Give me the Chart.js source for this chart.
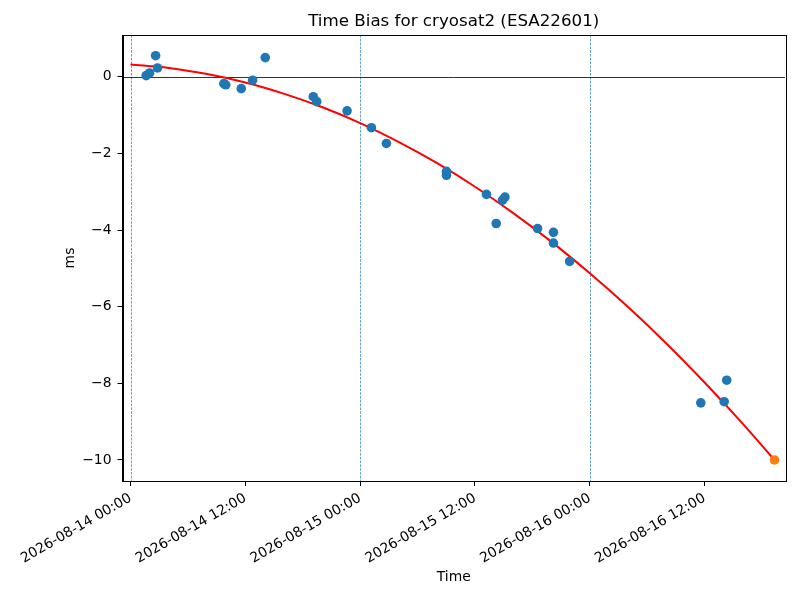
<!DOCTYPE html>
<html>
<head>
<meta charset="utf-8">
<script src="https://cdn.jsdelivr.net/npm/chart.js@4/dist/chart.umd.min.js"></script>
<style>
  html, body { margin: 0; padding: 0; background: #fff; }
  canvas { display: block; }
</style>
</head>
<body>
<canvas id="biasChart" width="800" height="600"></canvas>
<script>
  // hours since 2026-08-14 00:00 UTC
  const startDay = Date.UTC(2026, 7, 14);

  const chartTitle = 'Time Bias for cryosat2 (ESA22601)';

  // measured time bias (ms)
  const pointHours = [1.63, 1.99, 2.62, 2.82, 9.75, 9.95, 11.57, 12.76, 14.08, 19.1, 19.46,
    22.63, 25.17, 26.74, 33.02, 33.02, 37.2, 38.22, 38.88, 39.13, 42.54, 44.2, 44.2, 45.89,
    59.6, 62.04, 62.31];
  const pointValues = [0.03, 0.10, 0.55, 0.23, -0.18, -0.21, -0.31, -0.09, 0.50, -0.52, -0.65,
    -0.89, -1.33, -1.74, -2.47, -2.57, -3.07, -3.83, -3.22, -3.14, -3.96, -4.06, -4.34, -4.82,
    -8.51, -8.48, -7.92];

  // predicted point at end of fit
  const predHours = [67.3];
  const predValues = [-10.0];

  // red fit curve
  const fitHours = [0, 4, 8, 12, 16, 20, 24, 28, 32, 36, 40, 44, 48, 52, 56, 60, 64, 67.3];
  const fitValues = [0.32, 0.23, 0.07, -0.15, -0.44, -0.79, -1.21, -1.70, -2.25, -2.87,
    -3.56, -4.31, -5.13, -6.01, -6.96, -7.98, -9.06, -10.0];

  const dayLines = [0, 24, 48];
  const xTicks = [0, 12, 24, 36, 48, 60];
  const yTicks = [0, -2, -4, -6, -8, -10];

  const font = 'DejaVu Sans';

  function pad(n) {
    return String(n).padStart(2, '0');
  }

  function fmtTime(h) {
    const d = new Date(startDay + h * 3600000);
    return d.getUTCFullYear() + '-' + pad(d.getUTCMonth() + 1) + '-' + pad(d.getUTCDate()) +
      ' ' + pad(d.getUTCHours()) + ':' + pad(d.getUTCMinutes());
  }

  const toXY = (xs, ys) => xs.map((x, i) => ({ x: x, y: ys[i] }));

  // day boundaries, zero line, frame and a title centred over the axes
  const refLines = {
    id: 'refLines',
    beforeDatasetsDraw(chart) {
      const { ctx, chartArea: a, scales: { x, y } } = chart;
      ctx.save();
      ctx.strokeStyle = '#1f77b4';
      ctx.lineWidth = 0.7;
      ctx.setLineDash([2.6, 1.2]);
      dayLines.forEach(d => {
        const px = Math.round(x.getPixelForValue(d)) + 0.5;
        ctx.beginPath();
        ctx.moveTo(px, a.top);
        ctx.lineTo(px, a.bottom);
        ctx.stroke();
      });
      ctx.setLineDash([]);
      ctx.strokeStyle = '#000';
      ctx.lineWidth = 0.8;
      const py = Math.round(y.getPixelForValue(0)) + 0.5;
      ctx.beginPath();
      ctx.moveTo(a.left, py);
      ctx.lineTo(a.right, py);
      ctx.stroke();
      ctx.restore();
    },
    afterDatasetsDraw(chart) {
      const { ctx, chartArea: a } = chart;
      ctx.save();
      ctx.strokeStyle = '#000';
      ctx.lineWidth = 1;
      ctx.strokeRect(Math.round(a.left) + 0.5, Math.round(a.top) + 0.5,
        Math.round(a.right - a.left), Math.round(a.bottom - a.top));
      ctx.fillStyle = '#000';
      ctx.font = '16.7px "' + font + '"';
      ctx.textAlign = 'center';
      ctx.textBaseline = 'middle';
      ctx.fillText(chartTitle, (a.left + a.right) / 2, 21.5);
      ctx.restore();
    }
  };

  new Chart(document.getElementById('biasChart').getContext('2d'), {
    type: 'scatter',
    data: {
      datasets: [
        {
          label: 'measured',
          data: toXY(pointHours, pointValues),
          backgroundColor: '#1f77b4',
          borderWidth: 0,
          pointRadius: 4.8,
          order: 0
        },
        {
          label: 'predicted',
          data: toXY(predHours, predValues),
          backgroundColor: '#ff7f0e',
          borderWidth: 0,
          pointRadius: 4.8,
          order: 0
        },
        {
          type: 'line',
          label: 'fit',
          data: toXY(fitHours, fitValues),
          borderColor: '#ff0000',
          borderWidth: 2,
          pointRadius: 0,
          fill: false,
          cubicInterpolationMode: 'monotone',
          order: 1
        }
      ]
    },
    options: {
      responsive: false,
      animation: false,
      devicePixelRatio: 1,
      layout: { padding: { left: 0, right: 15, top: 35, bottom: 0 } },
      plugins: {
        legend: { display: false },
        tooltip: { enabled: false },
        title: { display: false }
      },
      scales: {
        x: {
          type: 'linear',
          min: -0.84,
          max: 68.4,
          afterBuildTicks: s => { s.ticks = xTicks.map(v => ({ value: v })); },
          afterFit: s => { s.height = 119; },
          grid: { display: true, drawOnChartArea: false, tickLength: 5, color: '#000', tickWidth: 1 },
          border: { display: true, color: '#000', width: 1 },
          ticks: {
            color: '#000',
            font: { family: font, size: 13.9 },
            padding: 4,
            minRotation: 30,
            maxRotation: 30,
            autoSkip: false,
            callback: v => fmtTime(v)
          },
          title: {
            display: true,
            text: 'Time',
            color: '#000',
            font: { family: font, size: 13.9, lineHeight: 1.2 },
            padding: { top: 0, bottom: 14.7 }
          }
        },
        y: {
          min: -10.55,
          max: 1.09,
          afterBuildTicks: s => { s.ticks = yTicks.map(v => ({ value: v })); },
          afterFit: s => { s.width = 122.5; },
          grid: { display: true, drawOnChartArea: false, tickLength: 5, color: '#000', tickWidth: 1 },
          border: { display: true, color: '#000', width: 1 },
          ticks: {
            color: '#000',
            font: { family: font, size: 13.9 },
            padding: 6,
            callback: v => (v < 0 ? '\u2212' + Math.abs(v) : String(v))
          },
          title: {
            display: true,
            text: 'ms',
            color: '#000',
            font: { family: font, size: 13.9, lineHeight: 1.2 },
            padding: { top: 61.7, bottom: 0 }
          }
        }
      }
    },
    plugins: [refLines]
  });
</script>
</body>
</html>
